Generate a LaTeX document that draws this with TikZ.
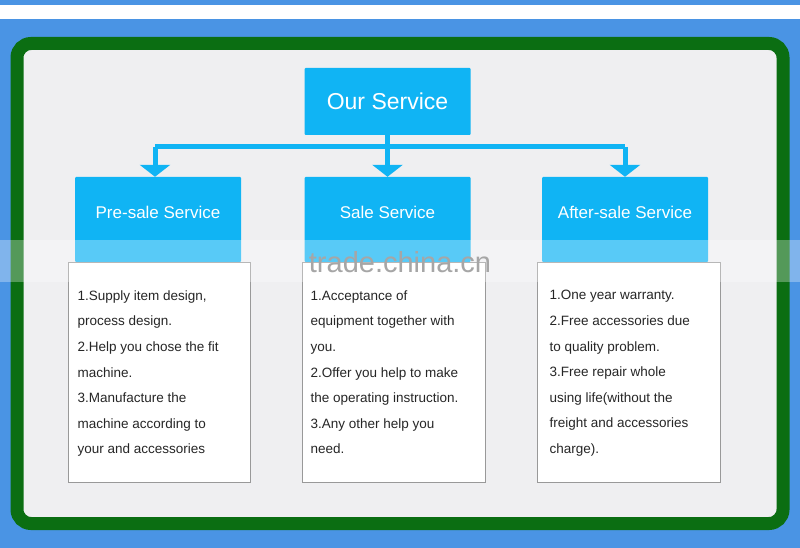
\documentclass[tikz,border=0pt]{standalone}
\usepackage{fontspec}
\setmainfont{Liberation Sans}
\usetikzlibrary{arrows.meta}
\definecolor{bbg}{HTML}{4A94E4}
\definecolor{gbord}{HTML}{0B6E12}
\definecolor{panel}{HTML}{EFEFF1}
\definecolor{cy}{HTML}{10B4F4}
\tikzset{
 hdr/.style={fill=cy,draw=none,rounded corners=1pt,text=white,font=\fontsize{17}{20}\selectfont},
 txtbox/.style={draw=gray!80,fill=white,line width=0.8pt},
 body/.style={anchor=north west,align=left,font=\fontsize{13.5}{25.6}\selectfont,text=black!85},
 conn/.style={draw=cy,line width=5pt},
 arr/.style={conn,-{Triangle[width=30pt,length=12pt]}}
}
\begin{document}
\begin{tikzpicture}[x=1pt,y=-1pt]
\useasboundingbox (0,0) rectangle (800,548);
\fill[white] (0,0) rectangle (800,548);
\fill[bbg] (0,0) rectangle (800,5);
\fill[bbg] (0,19) rectangle (800,548);
\draw[gbord,line width=13pt,fill=panel,rounded corners=14pt] (17,43.5) rectangle (783,523.5);
% boxes
\node[hdr,minimum width=166pt,minimum height=67pt,font=\fontsize{23}{26}\selectfont] (top) at (387.5,101.5) {Our Service};
\node[hdr,minimum width=166pt,minimum height=85pt,text depth=0pt] (pre) at (158,219.5) {\raisebox{14pt}{Pre-sale Service}};
\node[hdr,minimum width=166pt,minimum height=85pt] (sale) at (387.5,219.5) {\raisebox{14pt}{Sale Service}};
\node[hdr,minimum width=166pt,minimum height=85pt] (after) at (625,219.5) {\raisebox{14pt}{After-sale Service}};
\coordinate (j) at (387.5,147);
\coordinate (jl) at (155,147);
\coordinate (jr) at (625,147);
\draw[conn] (top.south) -- (j);
\draw[conn] (jl) -- (jr);
\draw[arr] (jl) -- (pre.north -| jl);
\draw[arr] (j) -- (sale.north);
\draw[arr] (jr) -- (after.north -| jr);
% text boxes
\draw[txtbox] (68,262) rectangle (250,482);
\draw[txtbox] (302,262) rectangle (485,482);
\draw[txtbox] (537,262) rectangle (720,482);
\node[body] (t1) at (74,287) {1.Supply item design,\\process design.\\2.Help you chose the fit\\machine.\\3.Manufacture the\\machine according to\\your and accessories};
\node[body] (t2) at (307,287) {1.Acceptance of\\equipment together with\\you.\\2.Offer you help to make\\the operating instruction.\\3.Any other help you\\need.};
\node[body] (t3) at (546,287) {1.One year warranty.\\2.Free accessories due\\to quality problem.\\3.Free repair whole\\using life(without the\\freight and accessories\\charge).};
% watermark band
\fill[white,opacity=0.3] (0,240) rectangle (800,282);
\node[text=gray!70,font=\fontsize{29}{32}\selectfont] (wm) at (400,262) {trade.china.cn};
\end{tikzpicture}
\end{document}
